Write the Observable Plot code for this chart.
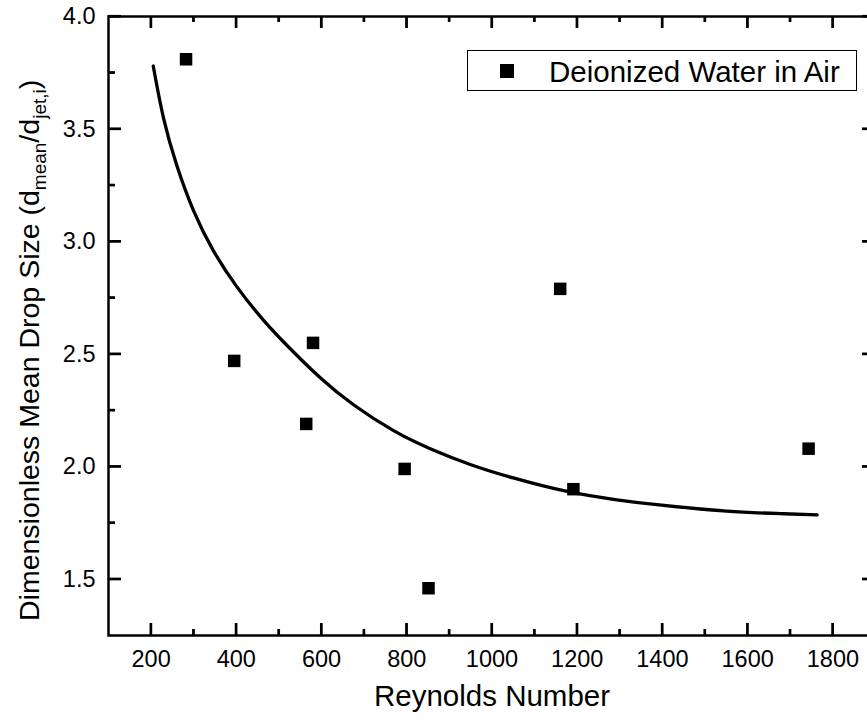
<!DOCTYPE html>
<html>
<head>
<meta charset="utf-8">
<script src="https://cdn.jsdelivr.net/npm/d3@7"></script>
<script src="https://cdn.jsdelivr.net/npm/@observablehq/plot@0.6"></script>
<style>
  html, body { margin: 0; padding: 0; background: #fff; overflow: hidden; }
  #chart { width: 867px; height: 723px; overflow: hidden; }
</style>
</head>
<body>
<div id="chart"></div>
<script>
// Measured data (Deionized Water in Air)
const reynolds = [282, 395, 564, 580, 795, 851, 1160, 1191, 1743];
const dropSize = [3.81, 2.47, 2.19, 2.55, 1.99, 1.46, 2.79, 1.90, 2.08];

// Fitted curve
const fitRe = [205, 229, 260, 299, 346, 401, 464, 526, 597, 675, 769, 855, 949, 1050, 1176, 1293, 1387, 1489, 1590, 1684, 1763];
const fitSize = [3.78, 3.55, 3.34, 3.14, 2.96, 2.80, 2.65, 2.525, 2.395, 2.275, 2.16, 2.08, 2.01, 1.95, 1.89, 1.853, 1.831, 1.812, 1.798, 1.791, 1.786];

// Ticks
const xMajor = [200, 400, 600, 800, 1000, 1200, 1400, 1600, 1800];
const xMinor = [300, 500, 700, 900, 1100, 1300, 1500, 1700];
const yMajor = [1.5, 2.0, 2.5, 3.0, 3.5, 4.0];
const yMinor = [1.75, 2.25, 2.75, 3.25, 3.75];

const xDomain = [100, 1900];
const yDomain = [1.25, 4.0];

const legendLabel = "Deionized Water in Air";
const xTitle = "Reynolds Number";

const points = reynolds.map((x, i) => ({x, y: dropSize[i]}));
const fit = fitRe.map((x, i) => ({x, y: fitSize[i]}));

const W = 875, H = 723;
const mTop = 16, mBottom = 88, mLeft = 108, mRight = 0;
const plotH = H - mTop - mBottom;
const plotW = W - mLeft - mRight;
const FONT = "'Liberation Sans', Arial, Helvetica, sans-serif";
const TW = 2.2;

const chart = Plot.plot({
  width: W,
  height: H,
  marginTop: mTop,
  marginBottom: mBottom,
  marginLeft: mLeft,
  marginRight: mRight,
  style: {fontFamily: FONT, color: "#000", background: "#fff", maxWidth: "none", overflow: "visible"},
  x: {domain: xDomain},
  y: {domain: yDomain},
  marks: [
    // inward ticks on all four sides (length set by insets from the frame)
    Plot.tickX(xMajor, {x: d => d, insetTop: plotH - 12, stroke: "#000", strokeWidth: TW}),
    Plot.tickX(xMinor, {x: d => d, insetTop: plotH - 6, stroke: "#000", strokeWidth: TW}),
    Plot.tickX(xMajor, {x: d => d, insetBottom: plotH - 12, stroke: "#000", strokeWidth: TW}),
    Plot.tickX(xMinor, {x: d => d, insetBottom: plotH - 6, stroke: "#000", strokeWidth: TW}),
    Plot.ruleY(yMajor, {y: d => d, insetRight: plotW - 13, stroke: "#000", strokeWidth: TW}),
    Plot.ruleY(yMinor, {y: d => d, insetRight: plotW - 7, stroke: "#000", strokeWidth: TW}),
    Plot.ruleY(yMajor, {y: d => d, insetLeft: plotW - 13, stroke: "#000", strokeWidth: TW}),
    Plot.ruleY(yMinor, {y: d => d, insetLeft: plotW - 7, stroke: "#000", strokeWidth: TW}),
    Plot.frame({stroke: "#000", strokeWidth: 2.5}),
    Plot.axisX({ticks: xMajor, tickSize: 0, tickPadding: 15, fontSize: 23.5, label: null, tickFormat: d => String(d)}),
    Plot.axisY({ticks: yMajor, tickSize: 0, tickPadding: 13, fontSize: 23.5, label: null, tickFormat: d3.format(".1f")}),
    Plot.line(fit, {x: "x", y: "y", curve: "natural", stroke: "#000", strokeWidth: 3.3}),
    Plot.dot(points, {x: "x", y: "y", symbol: "square", r: 7.05, fill: "#000"}),
    Plot.text([xTitle], {text: d => d, frameAnchor: "bottom", dy: 70.5, fontSize: 29.5, fill: "#000"})
  ]
});

const svg = d3.select(chart);

// Y axis title with subscripts
const yt = svg.append("text")
  .attr("transform", "translate(38.5,621) rotate(-90)")
  .attr("text-anchor", "start")
  .attr("font-family", FONT)
  .attr("font-size", 28.5)
  .attr("fill", "#000");
yt.append("tspan").text("Dimensionless Mean Drop Size (d");
yt.append("tspan").attr("font-size", 19).attr("dy", 7).text("mean");
yt.append("tspan").attr("dy", -7).text("/d");
yt.append("tspan").attr("font-size", 19).attr("dy", 7).text("jet,i");
yt.append("tspan").attr("dy", -7).text(")");

// Legend
const lg = svg.append("g");
lg.append("rect").attr("x", 467.5).attr("y", 50.5).attr("width", 389).attr("height", 40)
  .attr("fill", "#fff").attr("stroke", "#000").attr("stroke-width", 1);
lg.append("rect").attr("x", 500).attr("y", 64).attr("width", 14).attr("height", 14).attr("fill", "#000");
lg.append("text").attr("x", 549).attr("y", 82).attr("text-anchor", "start")
  .attr("font-family", FONT).attr("font-size", 29.5)
  .attr("fill", "#000").text(legendLabel);

// Second pass of the inward ticks on top of everything, placed through Plot's scales
const sx = chart.scale("x"), sy = chart.scale("y");
const [xl, xr] = sx.range, [yb, yt0] = sy.range;
const tg = svg.append("g").attr("stroke", "#000").attr("stroke-width", TW);
const addX = (vals, len) => vals.forEach(v => {
  const px = sx.apply(v);
  tg.append("line").attr("x1", px).attr("x2", px).attr("y1", yb).attr("y2", yb - len);
  tg.append("line").attr("x1", px).attr("x2", px).attr("y1", yt0).attr("y2", yt0 + len);
});
const addY = (vals, len) => vals.forEach(v => {
  const py = sy.apply(v);
  tg.append("line").attr("y1", py).attr("y2", py).attr("x1", xl).attr("x2", xl + len);
  tg.append("line").attr("y1", py).attr("y2", py).attr("x1", xr).attr("x2", xr - len);
});
addX(xMajor, 12); addX(xMinor, 6);
addY(yMajor, 13); addY(yMinor, 7);

document.getElementById("chart").appendChild(chart);
</script>
</body>
</html>
